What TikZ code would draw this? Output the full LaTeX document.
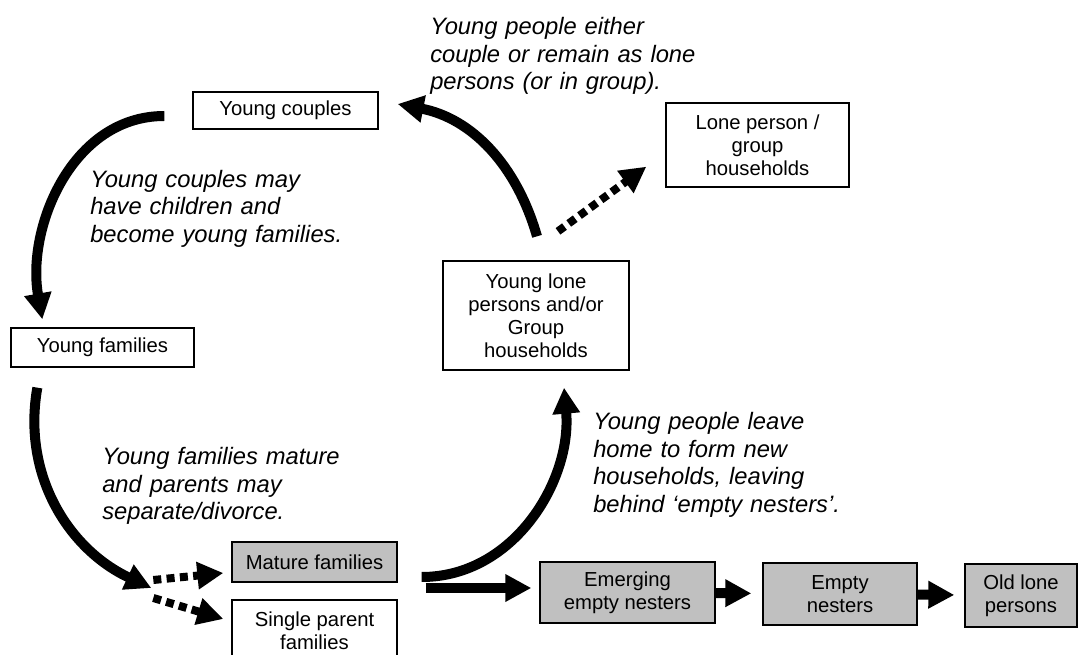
\documentclass[tikz,border=0pt]{standalone}
\usepackage{fontspec}
\setmainfont{Liberation Sans}
\usepackage{tikz}
\usetikzlibrary{arrows.meta}
\definecolor{boxgrey}{RGB}{192,192,192}
\newcommand{\boxfont}{\fontsize{15.2}{17.25}\selectfont}
\newcommand{\notefont}{\fontsize{17.8}{20.6}\selectfont\itshape}

\begin{document}
\begin{tikzpicture}[x=0.75pt,y=0.75pt,
  box/.style={draw,line width=1pt,fill=white,align=center,font=\boxfont,inner sep=0pt},
  greybox/.style={box,fill=boxgrey},
  note/.style={anchor=base west,align=left,text width=260pt,font=\notefont,inner sep=0pt},
  flow/.style={line width=7.5pt,-{Triangle[length=19.5pt,width=19.5pt]}},
  dotflow/.style={flow,line width=6pt,dash pattern=on 6pt off 4pt}]
  \useasboundingbox (0,0) rectangle (1078,-655);
  % households in the cycle
  \node[box,minimum width=138.75pt,minimum height=27.75pt] (ycouples) at (285.5,-110.5) {Young couples};
  \node[box,minimum width=137.25pt,minimum height=63pt] (lonegroup) at (757.5,-145) {Lone person /\\group\\households};
  \node[box,minimum width=139.5pt,minimum height=81.75pt] (younglone) at (536,-315.5) {Young lone\\persons and/or\\Group\\households};
  \node[box,minimum width=137.25pt,minimum height=29.25pt] (yfamilies) at (102.5,-347.5) {Young families};
  \node[greybox,minimum width=123.75pt,minimum height=30pt] (mature) at (314.5,-562) {Mature families};
  \node[box,minimum width=123.75pt,minimum height=46.5pt] (single) at (314.5,-631) {Single parent\\families};
  % older households
  \node[greybox,minimum width=131.25pt,minimum height=45.75pt] (emerging) at (627.5,-592.5) {Emerging\\empty nesters};
  \node[greybox,minimum width=115.5pt,minimum height=46.5pt] (empty) at (840,-594) {Empty\\nesters};
  \node[greybox,minimum width=84pt,minimum height=47.25pt] (oldlone) at (1021,-595.5) {Old lone\\persons};

  \node[note] (n1) at (430,-35) {Young people either\\couple or remain as lone\\persons (or in group).};
  \node[note] (n2) at (90,-187.5) {Young couples may\\have children and\\become young families.};
  \node[note] (n3) at (102,-465) {Young families mature\\and parents may\\separate/divorce.};
  \node[note] (n4) at (593,-430) {Young people leave\\home to form new\\households, leaving\\behind ‘empty nesters’.};

  \draw[flow] ([shift={(-28,-5.5)}]ycouples.west) to[out=180,in=100] ([shift={(32,8)}]yfamilies.north west);
  \draw[flow] ([shift={(1,24)}]younglone.north) to[out=106,in=-11] ([shift={(19,6.5)}]ycouples.east);
  \draw[dotflow] ([shift={(22,29)}]younglone.north) -- ([shift={(-19,21)}]lonegroup.south west);
  \draw[flow] ([shift={(27,-20)}]yfamilies.south west) to[out=-100,in=155] ([shift={(-80,-26)}]mature.west);
  \draw[dotflow] ([shift={(-78,-18)}]mature.west) -- ([shift={(-8,-11)}]mature.west);
  \draw[dotflow] ([shift={(-78,33)}]single.west) -- ([shift={(-8,12)}]single.west);
  \draw[flow] ([shift={(24,-15)}]mature.east) to[out=0,in=-85] ([shift={(28,-17)}]younglone.south);
  \draw[flow] ([shift={(28,-26)}]mature.east) -- ([shift={(-8,4.5)}]emerging.west);
  \draw[flow,shorten >=8.25pt] (emerging) -- (empty);
  \draw[flow,shorten >=7.5pt] (empty) -- (oldlone);
\end{tikzpicture}
\end{document}
